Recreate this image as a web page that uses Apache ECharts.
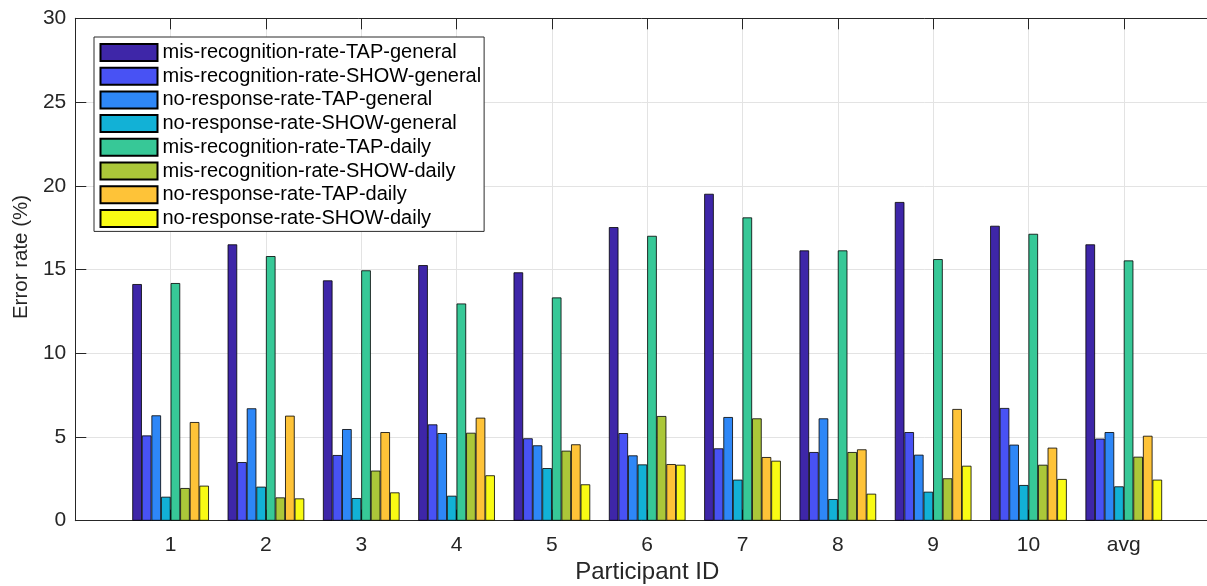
<!DOCTYPE html>
<html>
<head>
<meta charset="utf-8">
<script src="https://cdn.jsdelivr.net/npm/echarts@6/dist/echarts.min.js"></script>
<style>
  html, body { margin: 0; padding: 0; background: #fff; }
  #chart { width: 1207px; height: 586px; }
</style>
</head>
<body>
<div id="chart"></div>
<script>
// Participants and the average column
const categories = ['1', '2', '3', '4', '5', '6', '7', '8', '9', '10', 'avg'];

// Error rates (%) per condition
const misRecTapGeneral   = [14.13, 16.50, 14.35, 15.26, 14.83, 17.53, 19.52, 16.14, 19.03, 17.61, 16.50];
const misRecShowGeneral  = [5.09, 3.50, 3.92, 5.75, 4.92, 5.23, 4.32, 4.10, 5.29, 6.73, 4.90];
const noRespTapGeneral   = [6.29, 6.71, 5.47, 5.23, 4.50, 3.90, 6.19, 6.11, 3.94, 4.54, 5.29];
const noRespShowGeneral  = [1.43, 2.03, 1.35, 1.49, 3.14, 3.36, 2.45, 1.29, 1.73, 2.13, 2.05];
const misRecTapDaily     = [14.19, 15.80, 14.95, 12.97, 13.33, 17.01, 18.11, 16.14, 15.62, 17.13, 15.54];
const misRecShowDaily    = [1.95, 1.39, 2.99, 5.25, 4.18, 6.25, 6.11, 4.10, 2.53, 3.34, 3.82];
const noRespTapDaily     = [5.89, 6.27, 5.29, 6.15, 4.56, 3.38, 3.80, 4.26, 6.67, 4.36, 5.07];
const noRespShowDaily    = [2.09, 1.33, 1.69, 2.71, 2.17, 3.34, 3.58, 1.61, 3.28, 2.49, 2.45];

const seriesNames = [
  'mis-recognition-rate-TAP-general',
  'mis-recognition-rate-SHOW-general',
  'no-response-rate-TAP-general',
  'no-response-rate-SHOW-general',
  'mis-recognition-rate-TAP-daily',
  'mis-recognition-rate-SHOW-daily',
  'no-response-rate-TAP-daily',
  'no-response-rate-SHOW-daily'
];
const seriesValues = [
  misRecTapGeneral, misRecShowGeneral, noRespTapGeneral, noRespShowGeneral,
  misRecTapDaily, misRecShowDaily, noRespTapDaily, noRespShowDaily
];
// parula(8)
const colors = ['#3e26a8', '#4852f4', '#2e87f7', '#12b1d6', '#37c897', '#abc739', '#fec338', '#f9fb14'];

const tickYLabels = [0, 5, 10, 15, 20, 25, 30];

// x runs from 0 to 12 with the groups at 1..11
const axisCats = [''].concat(categories, ['']);

const FONT = 'Liberation Sans, Arial, Helvetica, sans-serif';
const AXIS_COLOR = '#262626';
const GRID_COLOR = '#e3e3e3';

const chart = echarts.init(document.getElementById('chart'), null, { renderer: 'canvas' });

chart.setOption({
  animation: false,
  textStyle: { fontFamily: FONT },
  grid: {
    left: 75.3, top: 18.3, width: 1143.8, height: 502.4,
    containLabel: false,
    outerBoundsMode: 'none'
  },
  legend: {
    data: seriesNames,
    orient: 'vertical',
    left: 94,
    top: 37,
    padding: [5.5, 3, 3, 5.5],
    itemWidth: 57,
    itemHeight: 17,
    itemGap: 3.7,
    icon: 'rect',
    backgroundColor: '#ffffff',
    borderColor: '#2b2b2b',
    borderWidth: 1,
    textStyle: { fontFamily: FONT, fontSize: 20, lineHeight: 17, color: '#000' }
  },
  xAxis: [
    {
      type: 'category',
      data: axisCats,
      boundaryGap: false,
      position: 'bottom',
      name: 'Participant ID',
      nameLocation: 'middle',
      nameGap: 40,
      nameTextStyle: { fontFamily: FONT, fontSize: 24, color: AXIS_COLOR },
      axisLine: { show: true, lineStyle: { color: AXIS_COLOR, width: 1 } },
      axisTick: { show: true, inside: true, length: 11, interval: 0, lineStyle: { color: AXIS_COLOR } },
      axisLabel: { interval: 0, fontFamily: FONT, fontSize: 21, color: AXIS_COLOR, margin: 14 },
      splitLine: { show: true, interval: 0, lineStyle: { color: GRID_COLOR, width: 1 } }
    },
    {
      type: 'category',
      data: axisCats,
      boundaryGap: false,
      position: 'top',
      axisLine: { show: true, lineStyle: { color: AXIS_COLOR, width: 1 } },
      axisTick: { show: true, inside: true, length: 11, interval: 0, lineStyle: { color: AXIS_COLOR } },
      axisLabel: { show: false },
      splitLine: { show: false }
    }
  ],
  yAxis: {
    type: 'value',
    min: 0,
    max: 30,
    interval: 5,
    name: 'Error rate (%)',
    nameLocation: 'middle',
    nameGap: 43,
    nameTextStyle: { fontFamily: FONT, fontSize: 20.5, color: AXIS_COLOR, padding: [0, 0, 0, 25] },
    axisLine: { show: true, lineStyle: { color: AXIS_COLOR, width: 1 } },
    axisTick: { show: true, inside: true, length: 11, lineStyle: { color: AXIS_COLOR } },
    axisLabel: {
      fontFamily: FONT, fontSize: 21, color: AXIS_COLOR, margin: 9,
      formatter: v => (tickYLabels.indexOf(v) >= 0 ? String(v) : '')
    },
    splitLine: { show: true, lineStyle: { color: GRID_COLOR, width: 1 } }
  },
  series: seriesNames.map((name, i) => ({
    name: name,
    type: 'bar',
    xAxisIndex: 0,
    barGap: '0%',
    barCategoryGap: '19.6%',
    itemStyle: { color: colors[i], borderColor: '#000', borderWidth: 0.8 },
    emphasis: { disabled: true },
    data: [null].concat(seriesValues[i], [null])
  }))
});
</script>
</body>
</html>
